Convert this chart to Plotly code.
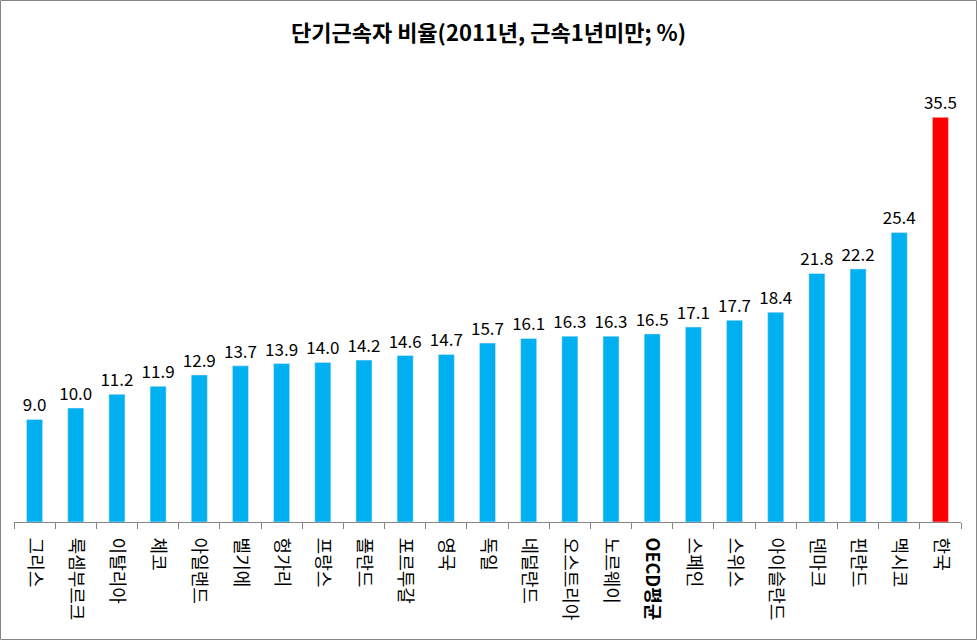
import plotly.graph_objects as go

categories = ["그리스", "룩셈부르크", "이탈리아", "체코", "아일랜드", "벨기에", "헝가리", "프랑스",
              "폴란드", "포르투갈", "영국", "독일", "네덜란드", "오스트리아", "노르웨이", "OECD평균",
              "스페인", "스위스", "아이슬란드", "덴마크", "핀란드", "멕시코", "한국"]
values = [9.0, 10.0, 11.2, 11.9, 12.9, 13.7, 13.9, 14.0, 14.2, 14.6, 14.7, 15.7, 16.1, 16.3,
          16.3, 16.5, 17.1, 17.7, 18.4, 21.8, 22.2, 25.4, 35.5]
colors = ["#00B0F0"] * (len(categories) - 1) + ["#FF0000"]
labels = [f"{v:.1f}" for v in values]
tick_text = [f"<b>{c}</b>" if c == "OECD평균" else c for c in categories]

W, H = 977, 640
ml, mr, mt, mb = 14, 16, 66, 118
pw, ph = W - ml - mr, H - mt - mb

fig = go.Figure(go.Bar(
    x=categories, y=values, marker_color=colors, width=0.39,
    text=labels, textposition="outside", cliponaxis=False, constraintext="none",
    textfont=dict(size=17, color="black", family="Noto Sans CJK KR"),
))

fig.update_layout(
    width=W, height=H,
    margin=dict(l=ml, r=mr, t=mt, b=mb, autoexpand=False),
    paper_bgcolor="white", plot_bgcolor="white",
    title=dict(text="<b>단기근속자 비율(2011년, 근속1년미만; %)</b>", x=0.5, xanchor="center",
               y=1 - 33 / H, yanchor="middle",
               font=dict(size=22, color="black", family="Noto Sans CJK KR")),
    showlegend=False,
    font=dict(family="Noto Sans CJK KR", color="black"),
    xaxis=dict(
        tickmode="array", tickvals=categories, ticktext=tick_text, automargin=False,
        tickangle=90, tickson="boundaries", ticks="outside", ticklen=6, tickcolor="#868686",
        ticklabelstandoff=11,
        showline=True, linecolor="#868686", linewidth=1,
        tickfont=dict(size=18, color="black", family="Noto Sans CJK KR"),
        showgrid=False,
    ),
    yaxis=dict(range=[0, 40], visible=False, showgrid=False),
    shapes=[dict(type="rect", xref="paper", yref="paper",
                 x0=-(ml - 0.5) / pw, x1=1 + (mr - 0.5) / pw,
                 y0=-(mb - 0.5) / ph, y1=1 + (mt - 0.5) / ph,
                 line=dict(color="#868686", width=1))],
)

fig.write_html("out.html", config={"displayModeBar": False},
               post_script="document.body.style.margin='0';document.body.style.overflow='hidden';")
